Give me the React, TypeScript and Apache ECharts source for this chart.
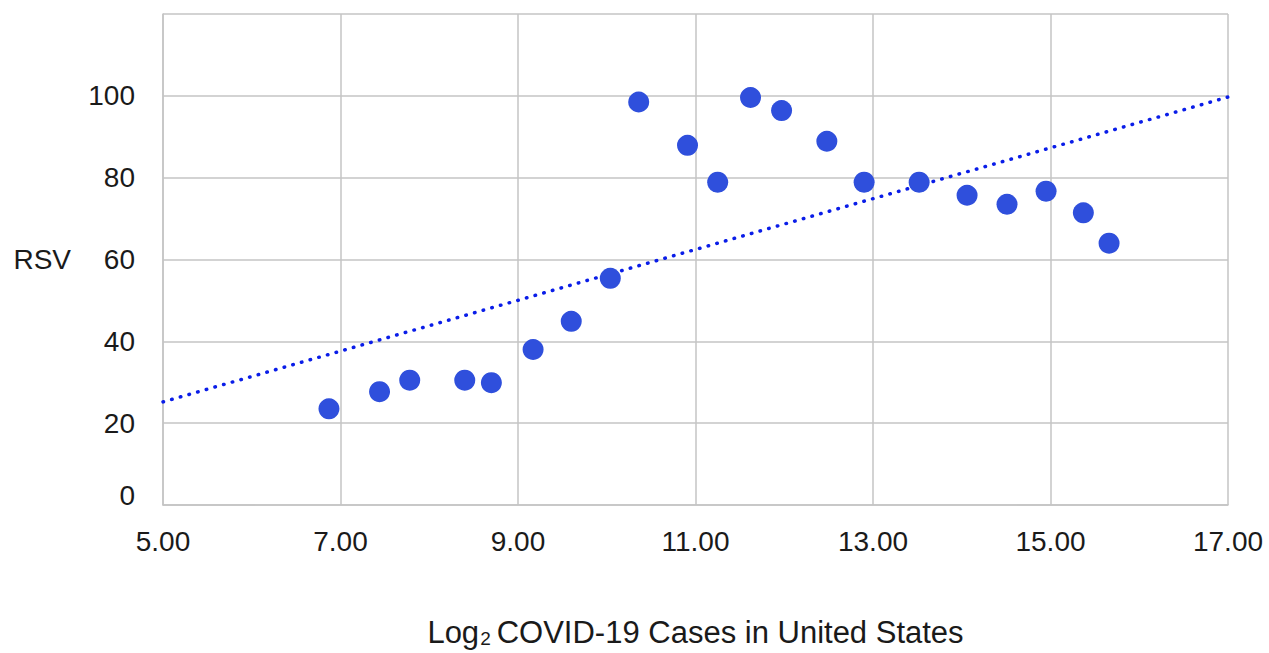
import React, { useEffect, useRef } from "react";
import * as echarts from "echarts";

const covidLog2 = [6.87, 7.44, 7.78, 8.4, 8.7, 9.17, 9.6, 10.04, 10.36, 10.91, 11.25, 11.62, 11.97, 12.48, 12.9, 13.52, 14.06, 14.51, 14.95, 15.37, 15.66];
const rsv = [23.5, 27.7, 30.5, 30.5, 29.9, 38.0, 44.9, 55.4, 98.5, 87.9, 78.9, 99.6, 96.4, 88.9, 78.9, 78.9, 75.7, 73.5, 76.7, 71.4, 64.0];
const trendX = [5, 17];
const trendY = [25.2, 99.7];
const xTicks = [5, 7, 9, 11, 13, 15, 17];
const yTicks = [0, 20, 40, 60, 80, 100];

export default function App() {
  const ref = useRef<HTMLDivElement>(null);
  useEffect(() => {
    if (!ref.current) return;
    const chart = echarts.init(ref.current, undefined, { renderer: "svg" });
    const font = "'Liberation Sans', Arial, sans-serif";
    chart.setOption({
      animation: false,
      backgroundColor: "#ffffff",
      grid: { left: 163, top: 14, right: 41, bottom: 146, containLabel: false },
      xAxis: {
        type: "value",
        min: 5,
        max: 17,
        axisLine: { show: true, lineStyle: { color: "#c4c4c4", width: 1.5 } },
        axisTick: { show: false, customValues: xTicks },
        axisLabel: {
          customValues: xTicks,
          formatter: (v: number) => v.toFixed(2),
          color: "#1a1a1a",
          fontFamily: font,
          fontSize: 28,
          margin: 22,
        },
        splitLine: { show: true, lineStyle: { color: "#c4c4c4", width: 1.5 } },
        name: "{a|Log}{s|2}{a|COVID-19 Cases in United States}",
        nameLocation: "middle",
        nameGap: 112,
        nameTextStyle: {
          rich: {
            a: { fontFamily: font, fontSize: 31, color: "#1a1a1a" },
            s: { fontFamily: font, fontSize: 19, color: "#1a1a1a", verticalAlign: "bottom", padding: [10, 6, 0, 1] },
          },
        },
      },
      yAxis: {
        type: "value",
        min: 0,
        max: 120,
        interval: 20,
        axisLine: { show: true, lineStyle: { color: "#c4c4c4", width: 1.5 } },
        axisTick: { show: false },
        axisLabel: {
          formatter: (v: number) => (v === 0 ? "{z|0}" : yTicks.indexOf(v) >= 0 ? String(v) : ""),
          color: "#1a1a1a",
          fontFamily: font,
          fontSize: 28,
          margin: 28,
          rich: {
            z: { fontFamily: font, fontSize: 28, color: "#1a1a1a", padding: [0, 0, 20, 0] },
          },
        },
        splitLine: { show: true, lineStyle: { color: "#c4c4c4", width: 1.5 } },
        name: "RSV",
        nameLocation: "middle",
        nameRotate: 0,
        nameGap: 92,
        nameTextStyle: { fontFamily: font, fontSize: 28, color: "#1a1a1a" },
      },
      series: [
        {
          type: "line",
          data: trendX.map((x, i) => [x, trendY[i]]),
          showSymbol: false,
          symbol: "none",
          lineStyle: { color: "#0a1de8", width: 3.5, type: [0.5, 8.5], cap: "round" },
          z: 3,
          silent: true,
        },
        {
          type: "scatter",
          data: covidLog2.map((x, i) => [x, rsv[i]]),
          symbolSize: 21,
          itemStyle: { color: "#2f4fdc", opacity: 1 },
          z: 4,
        },
      ],
    });
    return () => chart.dispose();
  }, []);
  return <div ref={ref} style={{ width: 1269, height: 653, position: "absolute", left: 0, top: 0 }} />;
}
